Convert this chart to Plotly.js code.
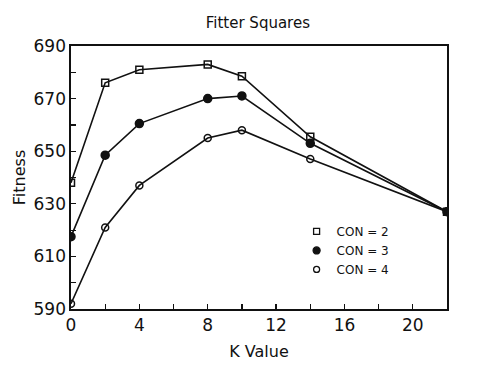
<!DOCTYPE html>
<html>
<head>
<meta charset="utf-8">
<script src="https://cdn.plot.ly/plotly-3.0.1.min.js"></script>
<style>html,body{margin:0;padding:0;background:#fff;}#chart{width:482px;height:379px;}</style>
</head>
<body>
<div id="chart"></div>
<script>
const kValues = [0, 2, 4, 8, 10, 14, 22];
const con2 = [638, 676, 681, 683, 678.5, 655.5, 627];
const con3 = [617.5, 648.5, 660.5, 670, 671, 653, 627];
const con4 = [592, 621, 637, 655, 658, 647, 627];
const seriesNames = ['CON = 2', 'CON = 3', 'CON = 4'];
const xTicks = [0, 4, 8, 12, 16, 20];
const yTicks = [590, 610, 630, 650, 670, 690];

const FONT = 'DejaVu Sans, Arial, sans-serif';
const markerStyles = [
  {symbol: 'square-open', size: 7},
  {symbol: 'circle', size: 8},
  {symbol: 'circle-open', size: 7}
];
const series = [con2, con3, con4];

const traces = [];
series.forEach((ys, i) => {
  traces.push({
    x: kValues, y: ys, type: 'scatter', mode: 'lines+markers',
    line: {color: '#111', width: 1.6},
    marker: Object.assign({color: '#111', line: {color: '#111', width: 1.5}}, markerStyles[i]),
    showlegend: false, hoverinfo: 'skip'
  });
});
series.forEach((ys, i) => {
  traces.push({
    x: [null], y: [null], type: 'scatter', mode: 'markers', name: seriesNames[i],
    marker: Object.assign({color: '#111', line: {color: '#111', width: 1.3}}, markerStyles[i], {size: markerStyles[i].size - 1}),
    showlegend: true
  });
});

const layout = {
  width: 482, height: 379,
  margin: {l: 71, r: 35, t: 46, b: 70},
  paper_bgcolor: '#fff', plot_bgcolor: '#fff',
  font: {family: FONT, color: '#111'},
  title: {text: 'Fitter Squares', x: 0.535, xanchor: 'center', y: 0.94, yanchor: 'middle', font: {size: 15, family: FONT, color: '#111'}},
  xaxis: {
    range: [0, 22], tickvals: xTicks, ticktext: xTicks.map(String),
    minor: {dtick: 2, ticks: 'inside', ticklen: 5, tickcolor: '#111', tickwidth: 1.2},
    ticks: 'inside', ticklen: 5, tickwidth: 1.2, tickcolor: '#111',
    showline: true, linecolor: '#111', linewidth: 1.6, mirror: true,
    showgrid: false, zeroline: false,
    tickfont: {size: 17, family: FONT, color: '#111'},
    title: {text: 'K Value', font: {size: 16, family: FONT, color: '#111'}, standoff: 12}
  },
  yaxis: {
    range: [590, 690], tickvals: yTicks, ticktext: yTicks.map(String),
    minor: {dtick: 10, ticks: 'inside', ticklen: 5, tickcolor: '#111', tickwidth: 1.2},
    ticks: 'inside', ticklen: 5, tickwidth: 1.2, tickcolor: '#111',
    showline: true, linecolor: '#111', linewidth: 1.6, mirror: true,
    showgrid: false, zeroline: false,
    tickfont: {size: 17, family: FONT, color: '#111'},
    title: {text: 'Fitness', font: {size: 16, family: FONT, color: '#111'}, standoff: 4}
  },
  legend: {
    x: 0.60, y: 0.35, xanchor: 'left', yanchor: 'top',
    bgcolor: 'rgba(0,0,0,0)', borderwidth: 0,
    font: {size: 12, family: FONT, color: '#111'},
    itemwidth: 30, tracegroupgap: 0
  },
  showlegend: true
};

Plotly.newPlot('chart', traces, layout, {displayModeBar: false, staticPlot: true});
</script>
</body>
</html>
